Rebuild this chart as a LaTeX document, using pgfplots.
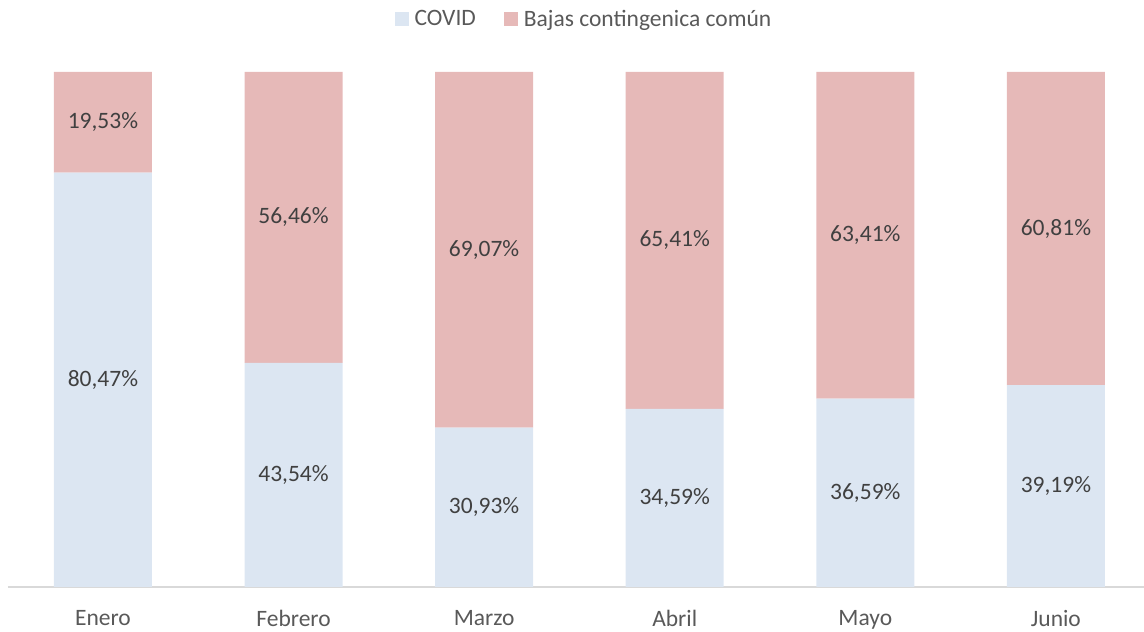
\documentclass[border=0pt]{standalone}
\usepackage{pgfplots}
\pgfplotsset{compat=1.18}
\usepackage{fontspec}
\setmainfont{Carlito}
\definecolor{covid}{HTML}{DCE6F2}
\definecolor{bajas}{HTML}{E6B9B8}
\definecolor{txt}{HTML}{404040}
\definecolor{tick}{HTML}{595959}
\definecolor{axisgray}{HTML}{D9D9D9}
\begin{document}
\begin{tikzpicture}[x=1pt,y=1pt]
\path[use as bounding box] (0,0) rectangle (1144,632);
\pgfplotsset{base/.style={
  at={(8pt,45pt)}, anchor=south west, scale only axis,
  width=1136pt, height=515pt,
  xmin=-0.498, xmax=5.462, ymin=0, ymax=100,
  font=\fontsize{23.5}{28}\selectfont,
}}
\begin{axis}[base,
  ybar stacked, bar width=98pt,
  axis x line*=bottom, axis y line=none,
  x axis line style={axisgray, line width=1.2pt, -},
  xtick={0,1,2,3,4,5},
  xticklabels={Enero,Febrero,Marzo,Abril,Mayo,Junio},
  major tick length=0pt,
  xticklabel style={text=tick, yshift=-20pt},
  legend style={at={(0.507,1.103)}, anchor=center, draw=none, fill=none,
    legend columns=-1, text=tick, font=\fontsize{23.5}{28}\selectfont,
    /tikz/every odd column/.append style={column sep=4pt},
    /tikz/every even column/.append style={column sep=26pt}},
  legend image code/.code={\fill[#1] (0pt,-7pt) rectangle (14pt,7pt);},
]
\addplot[fill=covid, draw=none] coordinates {(0,80.47) (1,43.54) (2,30.93) (3,34.59) (4,36.59) (5,39.19)};
\addplot[fill=bajas, draw=none] coordinates {(0,19.53) (1,56.46) (2,69.07) (3,65.41) (4,63.41) (5,60.81)};
\legend{COVID, Bajas contingenica común}
\end{axis}
\begin{axis}[base, axis lines=none, xtick=\empty, ytick=\empty]
\addplot[only marks, mark=none, nodes near coords, point meta=explicit symbolic,
  nodes near coords align=center,
  every node near coord/.append style={text=txt, font=\fontsize{23.5}{28}\selectfont}]
  table[meta=label] {
x y label
0 40.235 80,47\%
1 21.77 43,54\%
2 15.465 30,93\%
3 17.295 34,59\%
4 18.295 36,59\%
5 19.595 39,19\%
0 90.235 19,53\%
1 71.77 56,46\%
2 65.465 69,07\%
3 67.295 65,41\%
4 68.295 63,41\%
5 69.595 60,81\%
};
\end{axis}
\end{tikzpicture}
\end{document}
